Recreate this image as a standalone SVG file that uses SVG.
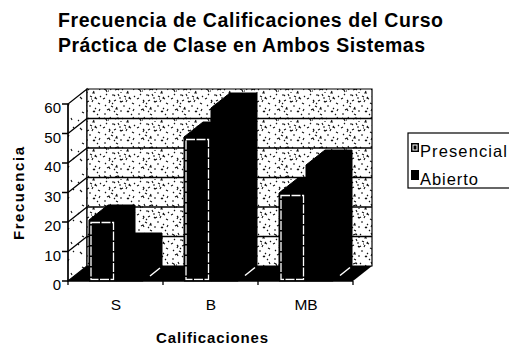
<svg xmlns="http://www.w3.org/2000/svg" width="509" height="346" viewBox="0 0 509 346">
<style>
.t{font-family:"Liberation Sans",Arial,sans-serif;fill:#000}
.b{font-weight:bold}
.wall{fill:url(#speck);stroke:#000;stroke-width:1.2}
.lwall{fill:url(#speck2);stroke:#000;stroke-width:1.2}
.grid{stroke:#000;stroke-width:1.3;fill:none}
.bar{fill:#000;stroke:#000;stroke-width:1}
.inset{fill:none;stroke:#fff;stroke-width:1.3;stroke-dasharray:9 1.5}
.axis{stroke:#000;stroke-width:1.3;fill:none}
.hl{stroke:#fff;stroke-width:1.5}
</style>
<defs>
<pattern id="speck" width="34" height="29" patternUnits="userSpaceOnUse">
<rect width="34" height="29" fill="#fff"/>
<path d="M2 2l2 1l1 2M8 1l1 2M13 3l3-1l1 1M20 2l1 1M26 4l-1 2l2 0M31 1l1 2M4 7l1 1M10 8h2l1 1M16 7l1 2M22 9l2 1M28 10l-1 1l2 1M1 12l2-1M7 13l1 1l-1 2M12 14l2-1M18 14l1 1l2-1M24 15l1-2M30 16l2 1M3 18l1 1M9 19l2 1M15 20l-1 2l2 0M21 19h2M27 21l1 1M32 22l-1 2M5 23l2-1l1 2M12 24l1 1M18 24h2M25 25l1-1l1 1M2 27l2 0M14 27l2 1M29 27l1 1M19 5l0 1M6 4h1M23 12l1 0M10 16l1 1M33 9l-1 1M17 11l2 0" stroke="#111" stroke-width="1.1" fill="none"/>
</pattern>
<pattern id="speck2" width="19" height="31" patternUnits="userSpaceOnUse">
<rect width="19" height="31" fill="#fff"/>
<path d="M4 4l2 2M12 11l-1 2M6 19l2 1M14 25l1 2M2 28l1-1M16 3l1 1" stroke="#111" stroke-width="1.1" fill="none"/>
</pattern>
</defs>
<rect width="509" height="346" fill="#fff"/>

<g id="title">
<text class="t b" x="58" y="27" font-size="19.5" textLength="385" lengthAdjust="spacing">Frecuencia de Calificaciones del Curso</text>
<text class="t b" x="58" y="52" font-size="19.5" textLength="367" lengthAdjust="spacing">Práctica de Clase en Ambos Sistemas</text>
</g>

<g id="walls">
<polygon class="lwall" points="68,281 68,104 87,89 87,266"/>
<polygon class="wall" points="87,89 372,89 372,266 87,266"/>
<polygon points="68,281 353,281 372,266 87,266" fill="#000"/>
<path class="grid" d="M68,251.5L87,236.5M68,222L87,207M68,192.5L87,177.5M68,163L87,148M68,133.5L87,118.5M87,236.5H372M87,207H372M87,177.5H372M87,148H372M87,118.5H372"/>
</g>

<g id="bars">
<g id="s-presencial">
<polygon class="bar" points="89,281 89,220 108,205 135,205 135,266 116,281"/>
<rect class="inset" x="91" y="222.5" width="22.5" height="57"/>
</g>
<g id="s-abierto">
<polygon class="bar" points="116,281 116,248 135,233 162,233 162,266 143,281"/>
</g>
<g id="b-presencial">
<polygon class="bar" points="184,281 184,137 203,122 230,122 230,266 211,281"/>
<rect class="inset" x="186" y="139.5" width="22.5" height="140"/>
</g>
<g id="b-abierto">
<polygon class="bar" points="211,281 211,108 230,93 257,93 257,266 238,281"/>
</g>
<g id="mb-presencial">
<polygon class="bar" points="279,281 279,193 298,178 325,178 325,266 306,281"/>
<rect class="inset" x="281" y="195.5" width="22.5" height="84"/>
</g>
<g id="mb-abierto">
<polygon class="bar" points="306,281 306,165 325,150 352,150 352,266 333,281"/>
</g>
<path class="hl" d="M150,276L160,268M245,275.5L255,267.5M340,275.5L350,267.5"/>
</g>

<g id="axes">
<path class="axis" d="M68,104V281H353M62,104H68M62,133.5H68M62,163H68M62,192.5H68M62,222H68M62,251.5H68M62,281H68M68,281V285M163,281V285M258,281V285M353,281V285"/>
<g class="t" font-size="15" text-anchor="end">
<text x="61" y="113">60</text>
<text x="61" y="142.5">50</text>
<text x="61" y="172">40</text>
<text x="61" y="201.5">30</text>
<text x="61" y="231">20</text>
<text x="61" y="260.5">10</text>
<text x="61" y="290">0</text>
</g>
<g class="t" font-size="15.5" text-anchor="middle">
<text x="116" y="310">S</text>
<text x="211" y="310">B</text>
<text x="306" y="310">MB</text>
</g>
<text class="t b" x="156" y="343" font-size="15" textLength="112" lengthAdjust="spacing">Calificaciones</text>
<text class="t b" font-size="15" transform="translate(24,240) rotate(-90)" textLength="93" lengthAdjust="spacing">Frecuencia</text>
</g>

<g id="legend">
<rect x="408" y="133" width="115" height="55" fill="#fff" stroke="#000" stroke-width="1.2"/>
<rect x="411" y="143" width="8" height="9" fill="#000"/>
<rect x="413" y="145" width="4" height="5" fill="none" stroke="#fff" stroke-width="1"/>
<text class="t" x="420" y="157" font-size="16.5" textLength="87" lengthAdjust="spacing">Presencial</text>
<rect x="411" y="170" width="8" height="10" fill="#000"/>
<text class="t" x="420" y="185" font-size="16.5" textLength="58" lengthAdjust="spacing">Abierto</text>
</g>
</svg>
